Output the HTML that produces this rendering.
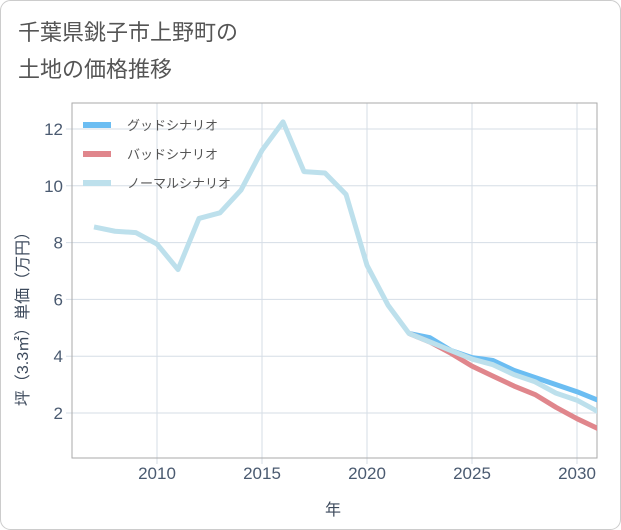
<!DOCTYPE html>
<html><head><meta charset="utf-8"><style>
body{margin:0;background:#fff;}
svg{display:block;font-family:"Liberation Sans","Noto Sans CJK JP",sans-serif;}
</style></head><body>
<svg id="c" width="621" height="530">
<rect x="0.5" y="0.5" width="620" height="529" rx="10" fill="#fff" stroke="#ccc"/>
<text x="18" y="40" font-size="22" fill="#555">千葉県銚子市上野町の</text>
<text x="18" y="77" font-size="22" fill="#555">土地の価格推移</text>
<g id="grid"></g>
<rect x="72" y="103" width="525" height="355" fill="none" stroke="#aaa" stroke-width="1"/>
<g id="series"></g>
<g id="legend"></g>
<text x="333" y="515" font-size="16" fill="#3d4a5c" text-anchor="middle">年</text>
<text transform="translate(28,315) rotate(-90)" font-size="16" fill="#3d4a5c" text-anchor="middle">坪（3.3㎡）単価（万円）</text>
</svg>
<script>
const years=[2007,2008,2009,2010,2011,2012,2013,2014,2015,2016,2017,2018,2019,2020,2021,2022,2023,2024,2025,2026,2027,2028,2029,2030,2031];
const normal=[8.55,8.4,8.35,7.95,7.05,8.85,9.05,9.85,11.25,12.25,10.5,10.45,9.7,7.2,5.8,4.8,4.5,4.2,3.9,3.7,3.35,3.1,2.7,2.45,2.05];
const goodYears=[2022,2023,2024,2025,2026,2027,2028,2029,2030,2031];
const good=[4.8,4.65,4.2,3.95,3.85,3.5,3.25,3.0,2.75,2.45];
const bad=[4.8,4.5,4.1,3.65,3.3,2.95,2.65,2.2,1.8,1.45];
const xTicks=[2010,2015,2020,2025,2030];
const yTicks=[2,4,6,8,10,12];
const ns="http://www.w3.org/2000/svg";
function X(y){return 157+(y-2010)*21;}
function Y(v){return 413-(v-2)*28.4;}
function el(t,a,p){const e=document.createElementNS(ns,t);for(const k in a)e.setAttribute(k,a[k]);p.appendChild(e);return e;}
const g=document.getElementById('grid');
xTicks.forEach(t=>{
 const l=el('line',{x1:X(t),x2:X(t),y1:103,y2:464,stroke:'#d5dde6'},g);
 
 
 const tx=el('text',{x:X(t),y:479,'font-size':17,fill:'#4a5a70','text-anchor':'middle'},g);tx.textContent=t;
 
 
});
yTicks.forEach(t=>{
 const l=el('line',{x1:66,x2:597,y1:Y(t),y2:Y(t),stroke:'#d5dde6'},g);
 
 
 const tx=el('text',{x:63,y:Y(t)+6,'font-size':17,fill:'#4a5a70','text-anchor':'end'},g);tx.textContent=t;
 
 
});
const s=document.getElementById('series');
const defs=el('defs',{},s);const cp=el('clipPath',{id:'cl'},defs);el('rect',{x:72,y:103,width:525,height:355},cp);
function line(xs,vs,col,name){
 const p=el('polyline',{points:xs.map((y,i)=>X(y)+','+Y(vs[i])).join(' '),fill:'none',stroke:col,'stroke-width':5,'stroke-linejoin':'round','clip-path':'url(#cl)'},s);
 
 
}
line(goodYears,good,'#6bbdf2','good-scenario-line');
line(goodYears,bad,'#e0868c','bad-scenario-line');
line(years,normal,'#bde0ec','normal-scenario-line');
const lg=document.getElementById('legend');
[['グッドシナリオ','#6bbdf2','legend-good'],['バッドシナリオ','#e0868c','legend-bad'],['ノーマルシナリオ','#bde0ec','legend-normal']].forEach((d,i)=>{
 const y=125+i*29;
 const gr=el('g',{},lg);
 
 
 el('line',{x1:83,x2:111,y1:y,y2:y,stroke:d[1],'stroke-width':6},gr);
 const t=el('text',{x:127,y:y+5,'font-size':13,fill:'#555'},gr);t.textContent=d[0];
});
</script>
</body></html>
